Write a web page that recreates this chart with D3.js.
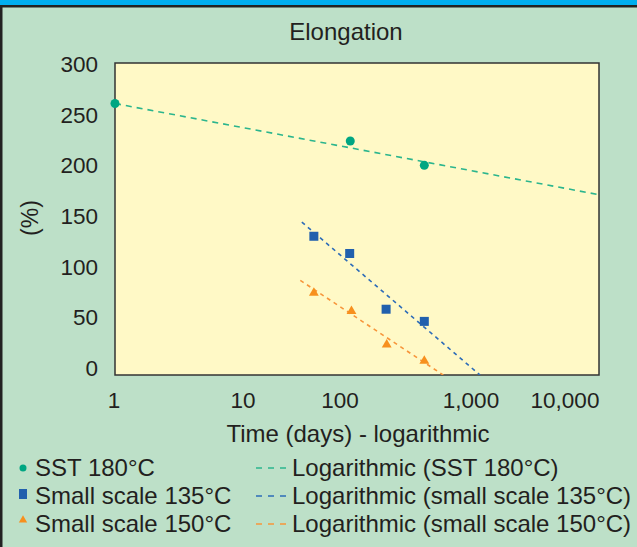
<!DOCTYPE html>
<html>
<head>
<meta charset="utf-8">
<script src="https://cdn.jsdelivr.net/npm/d3@7"></script>
<style>
  body { margin: 0; background: #bde0c8; }
  svg { display: block; font-family: "Liberation Sans", Arial, sans-serif; }
</style>
</head>
<body>
<div id="chart"></div>
<script>
/* Elongation vs time (log scale), with log trendlines. */

// data points (days, %)
var sstDays = [1, 88, 360];
var sstVals = [261, 224, 200];
var s135Days = [44, 87, 174, 360];
var s135Vals = [130, 113, 58, 46];
var s150Days = [44, 90, 176, 360];
var s150Vals = [74, 56, 23, 7];

// trendline end points as drawn (days, %)
var sstTrendDays = [1, 10000];
var sstTrendVals = [261, 171];
var s135TrendDays = [35, 1040];
var s135TrendVals = [144, -7];
var s150TrendDays = [34, 517];
var s150TrendVals = [86.5, -7];

var xTicks = [1, 10, 100, 1000, 10000];
var xTickLabels = ["1", "10", "100", "1,000", "10,000"];
var yTicks = [0, 50, 100, 150, 200, 250, 300];

var legendNames = ["SST 180°C", "Small scale 135°C", "Small scale 150°C"];
var trendNames = ["Logarithmic (SST 180°C)", "Logarithmic (small scale 135°C)", "Logarithmic (small scale 150°C)"];

var width = 637, height = 547;
var plot = {left: 115, right: 599, top: 63, bottom: 375};
var textCol = "#231f20";
var colors = ["#00a682", "#2160ad", "#f7901e"];
var lineColors = ["#2bb58d", "#2d6cb8", "#f7953a"];

var svg = d3.select("#chart").append("svg")
    .attr("width", width)
    .attr("height", height);

// frame
svg.append("rect").attr("x", 0).attr("y", 0).attr("width", width).attr("height", height).attr("fill", "#bde0c8");
svg.append("rect").attr("x", 0).attr("y", 0).attr("width", width).attr("height", 5).attr("fill", "#00aeef");
svg.append("rect").attr("x", 0).attr("y", 5).attr("width", width).attr("height", 2.5).attr("fill", "#222");
svg.append("rect").attr("x", 0).attr("y", 5).attr("width", 2.5).attr("height", height).attr("fill", "#222");

var x = d3.scaleLog().domain([1, 10000]).range([plot.left, plot.right]);
var y = d3.scaleLinear().domain([0, 300]).range([368, 64]);

svg.append("rect")
    .attr("x", plot.left).attr("y", plot.top)
    .attr("width", plot.right - plot.left).attr("height", plot.bottom - plot.top)
    .attr("fill", "#fff9c6")
    .attr("stroke", "#333")
    .attr("stroke-width", 1.5);

svg.append("clipPath").attr("id", "plotclip")
  .append("rect")
    .attr("x", plot.left).attr("y", plot.top)
    .attr("width", plot.right - plot.left).attr("height", plot.bottom - plot.top);

// title
svg.append("text")
    .attr("x", 346).attr("y", 40)
    .attr("text-anchor", "middle")
    .attr("font-size", 24)
    .attr("fill", textCol)
    .text("Elongation");

// y tick labels
svg.selectAll(".ytick")
    .data(yTicks)
  .enter().append("text")
    .attr("class", "ytick")
    .attr("x", 98)
    .attr("y", function (d) { return y(d) + 8; })
    .attr("text-anchor", "end")
    .attr("font-size", 22.5)
    .attr("fill", textCol)
    .text(function (d) { return d; });

// x tick labels (hand-nudged like the original)
var xTickDx = [-1, 7, -17, -7, -34];
svg.selectAll(".xtick")
    .data(xTicks)
  .enter().append("text")
    .attr("class", "xtick")
    .attr("x", function (d, i) { return x(d) + xTickDx[i]; })
    .attr("y", 408)
    .attr("text-anchor", "middle")
    .attr("font-size", 22.5)
    .attr("fill", textCol)
    .text(function (d, i) { return xTickLabels[i]; });

svg.append("text")
    .attr("x", 358).attr("y", 442)
    .attr("text-anchor", "middle")
    .attr("font-size", 24)
    .attr("fill", textCol)
    .text("Time (days) - logarithmic");

svg.append("text")
    .attr("transform", "translate(38,218) rotate(-90)")
    .attr("text-anchor", "middle")
    .attr("font-size", 23)
    .attr("fill", textCol)
    .text("(%)");

// trendlines
var line = d3.line()
    .x(function (d) { return x(d[0]); })
    .y(function (d) { return y(d[1]); });

var trends = [
  d3.zip(sstTrendDays, sstTrendVals),
  d3.zip(s135TrendDays, s135TrendVals),
  d3.zip(s150TrendDays, s150TrendVals)
];
var dashes = ["6,5", "4,4", "4,4"];

svg.append("g").attr("clip-path", "url(#plotclip)")
  .selectAll("path")
    .data(trends)
  .enter().append("path")
    .attr("d", line)
    .attr("fill", "none")
    .attr("stroke", function (d, i) { return lineColors[i]; })
    .attr("stroke-width", 1.6)
    .attr("stroke-dasharray", function (d, i) { return dashes[i]; });

// points
svg.selectAll(".sst")
    .data(d3.zip(sstDays, sstVals))
  .enter().append("circle")
    .attr("class", "sst")
    .attr("cx", function (d) { return x(d[0]); })
    .attr("cy", function (d) { return y(d[1]); })
    .attr("r", 4.5)
    .attr("fill", colors[0]);

svg.selectAll(".s135")
    .data(d3.zip(s135Days, s135Vals))
  .enter().append("rect")
    .attr("class", "s135")
    .attr("x", function (d) { return x(d[0]) - 4.5; })
    .attr("y", function (d) { return y(d[1]) - 4.5; })
    .attr("width", 9).attr("height", 9)
    .attr("fill", colors[1]);

var tri = d3.symbol().type(d3.symbolTriangle).size(42);
svg.selectAll(".s150")
    .data(d3.zip(s150Days, s150Vals))
  .enter().append("path")
    .attr("class", "s150")
    .attr("transform", function (d) { return "translate(" + x(d[0]) + "," + y(d[1]) + ")"; })
    .attr("d", tri)
    .attr("fill", colors[2]);

// legend
var leg = svg.append("g");
legendNames.forEach(function (name, i) {
  var ly = 476 + i * 28;
  if (i === 0) {
    leg.append("circle").attr("cx", 23).attr("cy", ly - 8).attr("r", 3.5).attr("fill", colors[0]);
  } else if (i === 1) {
    leg.append("rect").attr("x", 19).attr("y", ly - 15).attr("width", 8).attr("height", 10).attr("fill", colors[1]);
  } else {
    leg.append("path").attr("transform", "translate(23," + (ly - 12) + ")")
      .attr("d", d3.symbol().type(d3.symbolTriangle).size(30)).attr("fill", colors[2]);
  }
  leg.append("text").attr("x", 35).attr("y", ly)
    .attr("font-size", 24).attr("fill", textCol).text(name);

  leg.append("line")
    .attr("x1", 256).attr("x2", 288)
    .attr("y1", ly - 8).attr("y2", ly - 8)
    .attr("stroke", lineColors[i])
    .attr("stroke-width", 1.5)
    .attr("stroke-dasharray", "6,6");
  leg.append("text").attr("x", 292).attr("y", ly)
    .attr("font-size", 24).attr("fill", textCol).text(trendNames[i]);
});
</script>
</body>
</html>
